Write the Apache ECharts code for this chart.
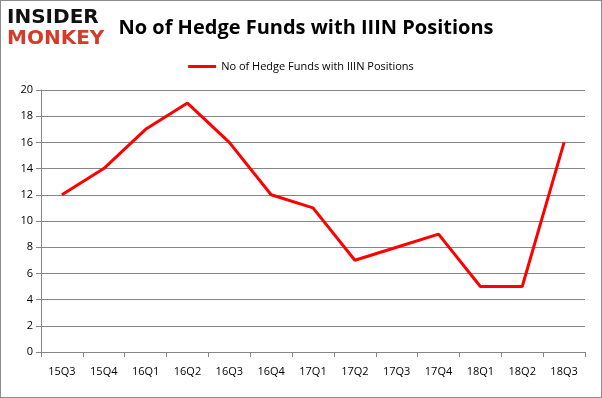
<!DOCTYPE html>
<html><head><meta charset="utf-8">
<script src="https://cdn.jsdelivr.net/npm/echarts@6/dist/echarts.min.js"></script>
<style>html,body{margin:0;padding:0;background:#fff}#c{width:602px;height:398px;box-sizing:border-box;border:1px solid #8c8c8c}</style>
</head><body><div id="c"></div>
<script>
const categories = ['15Q3','15Q4','16Q1','16Q2','16Q3','16Q4','17Q1','17Q2','17Q3','17Q4','18Q1','18Q2','18Q3'];
const seriesName = 'No of Hedge Funds with IIIN Positions';
const values = [12,14,17,19,16,12,11,7,8,9,5,5,16];
const chart = echarts.init(document.getElementById('c'));
chart.setOption({
  animation:false,
  title:{text:'No of Hedge Funds with IIIN Positions',left:300,top:12,textAlign:'center',
    textStyle:{fontFamily:'Open Sans',fontSize:20,fontWeight:'bold',color:'#000'}},
  graphic:[
    {type:'text',left:6,top:7,style:{text:'INSIDER',font:'900 20px "DejaVu Sans"',fill:'#111'}},
    {type:'text',left:6,top:28,style:{text:'MONKEY',font:'900 20px "DejaVu Sans"',fill:'#d63b2a'}}
  ],
  legend:{top:55,left:'center',itemWidth:28,itemHeight:3,icon:'rect',
    textStyle:{fontFamily:'Open Sans',fontSize:11,color:'#000'},data:[seriesName]},
  grid:{left:40,right:16,top:89,bottom:45,containLabel:false},
  xAxis:{type:'category',data:categories,boundaryGap:true,
    axisLine:{lineStyle:{color:'#868686'}},axisTick:{show:true,lineStyle:{color:'#868686'}},
    axisLabel:{fontFamily:'Open Sans',fontSize:11,color:'#000',margin:14}},
  yAxis:{type:'value',min:0,max:20,interval:2,
    axisLine:{show:true,lineStyle:{color:'#868686'}},axisTick:{show:true,lineStyle:{color:'#868686'}},
    splitLine:{lineStyle:{color:'#868686'}},
    axisLabel:{fontFamily:'Open Sans',fontSize:11,color:'#000',margin:8}},
  series:[{name:seriesName,type:'line',data:values,symbol:'none',
    lineStyle:{color:'#ff0000',width:3},itemStyle:{color:'#ff0000'}}]
});
</script></body></html>
